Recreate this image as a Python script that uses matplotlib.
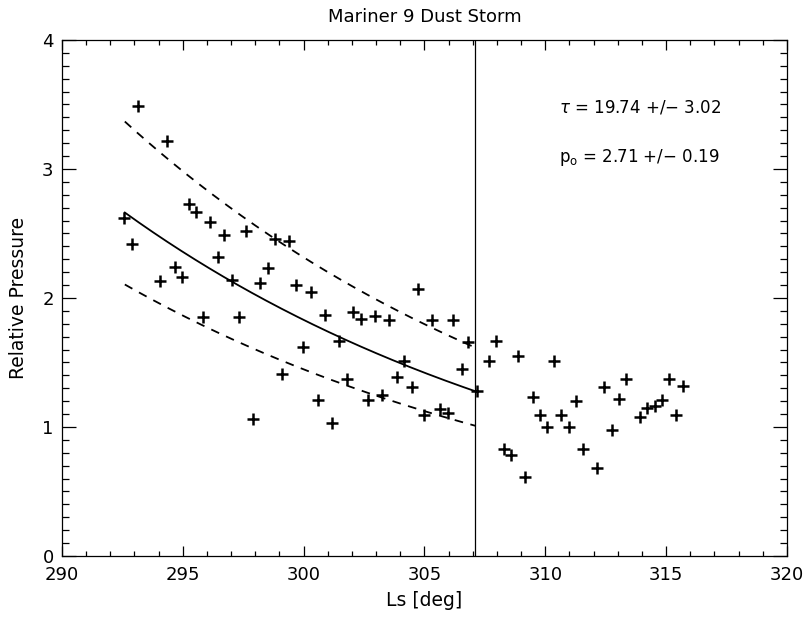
import numpy as np
import matplotlib
matplotlib.use('Agg')
import matplotlib.pyplot as plt
from matplotlib.ticker import MultipleLocator

# Ls [deg] e pressao relativa
ls = [293.16, 294.33, 292.58, 292.88, 295.25, 295.53, 296.12, 296.72, 296.44, 297.63,
      294.68, 294.05, 294.95, 297.02, 298.19, 298.51, 298.83, 299.38, 299.68, 300.29,
      300.87, 295.84, 297.32, 299.98, 301.47, 299.12, 300.58, 297.92, 301.17, 304.73,
      302.04, 302.36, 302.96, 303.54, 305.33, 306.20, 306.82, 307.98, 307.68, 308.88,
      310.37, 304.15, 306.54, 301.78, 303.85, 304.47, 307.16, 302.66, 303.25, 305.00,
      305.64, 305.96, 309.50, 309.79, 310.08, 310.67, 310.97, 311.25, 308.30, 308.58,
      309.18, 311.54, 312.15, 312.44, 312.76, 313.05, 313.35, 313.93, 314.22, 314.53,
      314.84, 315.11, 315.40, 315.71]
pressao = [3.49, 3.22, 2.62, 2.42, 2.73, 2.67, 2.59, 2.49, 2.32, 2.52,
           2.24, 2.13, 2.16, 2.14, 2.12, 2.23, 2.46, 2.44, 2.10, 2.05,
           1.87, 1.85, 1.85, 1.62, 1.67, 1.41, 1.21, 1.06, 1.03, 2.07,
           1.89, 1.84, 1.86, 1.83, 1.83, 1.83, 1.66, 1.67, 1.51, 1.55,
           1.51, 1.51, 1.45, 1.37, 1.39, 1.31, 1.28, 1.21, 1.25, 1.09,
           1.14, 1.11, 1.23, 1.09, 1.00, 1.09, 1.00, 1.20, 0.83, 0.78,
           0.61, 0.83, 0.68, 1.31, 0.98, 1.22, 1.37, 1.08, 1.15, 1.16,
           1.21, 1.37, 1.09, 1.32]

# ajuste exponencial
tau = 19.74
p0 = 2.71
ls_inicio = 292.6
ls_fim = 307.1
x0 = 292.25
fator = 1.265  # envelope tracejado

x = np.linspace(ls_inicio, ls_fim, 200)
ajuste = p0 * np.exp(-(x - x0) / tau)

fig = plt.figure(figsize=(8.05, 6.21), dpi=100)
ax = fig.add_axes([0.077, 0.1047, 0.9006, 0.8309])

ax.plot(ls, pressao, '+', color='black', markersize=8.5, markeredgewidth=1.8)
ax.plot(x, ajuste, color='black', lw=1.3)
ax.plot(x, ajuste * fator, color='black', lw=1.3, dashes=(4.8, 4.2))
ax.plot(x, ajuste / fator, color='black', lw=1.3, dashes=(4.8, 4.2))
ax.axvline(ls_fim, color='black', lw=0.9)

ax.set_xlim(290, 320)
ax.set_ylim(0, 4)
ax.xaxis.set_major_locator(MultipleLocator(5))
ax.xaxis.set_minor_locator(MultipleLocator(1))
ax.yaxis.set_major_locator(MultipleLocator(1))
ax.yaxis.set_minor_locator(MultipleLocator(0.1))
ax.tick_params(axis='both', which='both', direction='in', top=True, right=True,
               width=0.9, labelsize=13, colors='black')
ax.tick_params(axis='x', which='major', length=7.2, pad=7)
ax.tick_params(axis='x', which='minor', length=3.6)
ax.tick_params(axis='y', which='major', length=10, pad=6)
ax.tick_params(axis='y', which='minor', length=5)
for s in ax.spines.values():
    s.set_linewidth(0.9)

ax.set_title('Mariner 9 Dust Storm', fontsize=13, pad=13)
ax.set_xlabel('Ls [deg]', fontsize=13.5, labelpad=5)
ax.set_ylabel('Relative Pressure', fontsize=13.5, labelpad=10)

ax.text(0.686, 0.87, r'$\tau$ = 19.74 +/$-$ 3.02', transform=ax.transAxes,
        fontsize=12, va='center')
ax.text(0.686, 0.773, r'p$_{\rm o}$ = 2.71 +/$-$ 0.19', transform=ax.transAxes,
        fontsize=12, va='center')

plt.savefig('out.png', dpi=100)
